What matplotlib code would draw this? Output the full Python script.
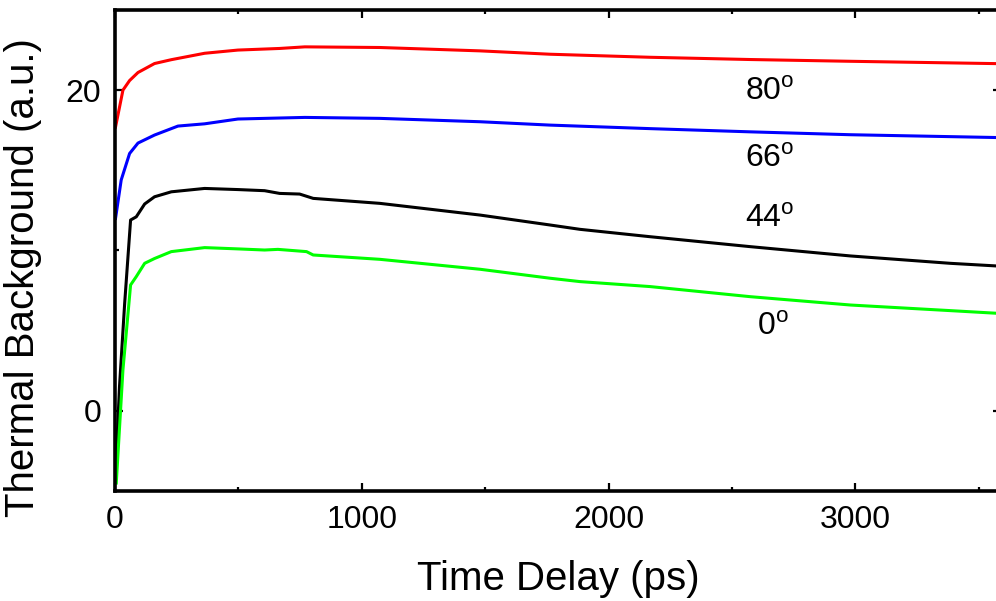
#!/usr/bin/env python3
"""
Thermal background vs. time delay for several angles
"""

import matplotlib
matplotlib.use('Agg')
import matplotlib.pyplot as plt
from matplotlib.ticker import MultipleLocator

plt.rcParams['font.family'] = ['Liberation Sans', 'DejaVu Sans']
plt.rcParams['mathtext.fontset'] = 'custom'
plt.rcParams['mathtext.rm'] = 'Liberation Sans'

# 80 deg (red)
t_80 = [2, 32, 59, 93, 160, 228, 363, 498, 667, 769, 1073, 1479, 1763, 2168, 2574, 2980, 3590]
y_80 = [17.7, 20.0, 20.6, 21.1, 21.66, 21.9, 22.3, 22.5, 22.6, 22.7, 22.66, 22.45, 22.24, 22.05, 21.91, 21.8, 21.65]

# 66 deg (blue)
t_66 = [2, 25, 59, 93, 160, 255, 363, 498, 769, 1073, 1479, 1763, 2168, 2574, 2980, 3590]
y_66 = [12.0, 14.4, 16.05, 16.7, 17.2, 17.76, 17.9, 18.2, 18.3, 18.24, 18.03, 17.82, 17.6, 17.4, 17.22, 17.04]

# 44 deg (black)
t_44 = [2, 18, 39, 63, 86, 120, 160, 228, 363, 498, 606, 667, 748, 803, 1073, 1479, 1763,
        1884, 2168, 2574, 2980, 3385, 3590]
y_44 = [-4.0, 1.5, 6.7, 11.9, 12.1, 12.9, 13.35, 13.66, 13.87, 13.8, 13.73, 13.56, 13.52, 13.25,
        12.94, 12.21, 11.59, 11.32, 10.86, 10.24, 9.66, 9.2, 9.02]

# 0 deg (green)
t_0 = [5, 32, 63, 86, 120, 160, 228, 363, 498, 606, 660, 776, 803, 1073, 1479, 1763, 1884,
       2168, 2574, 2980, 3385, 3590]
y_0 = [-4.5, 2.55, 7.85, 8.37, 9.2, 9.5, 9.93, 10.18, 10.1, 10.03, 10.07, 9.93, 9.72, 9.45,
       8.83, 8.27, 8.06, 7.75, 7.12, 6.6, 6.25, 6.07]

labels = ['80$^\\mathrm{o}$', '66$^\\mathrm{o}$', '44$^\\mathrm{o}$', '0$^\\mathrm{o}$']
label_x = [2554, 2554, 2554, 2601]
label_y = [19.38, 15.22, 11.48, 4.74]


def main():
    fig = plt.figure(figsize=(9.96, 6.01), dpi=100)
    ax = fig.add_axes([0.1155, 0.183, 0.8895, 0.8004])

    ax.plot(t_80, y_80, color='#ff0000', linewidth=2.2)
    ax.plot(t_66, y_66, color='#0000ff', linewidth=2.2)
    ax.plot(t_44, y_44, color='black', linewidth=2.2)
    ax.plot(t_0, y_0, color='#00ff00', linewidth=2.2)

    for txt, x, y in zip(labels, label_x, label_y):
        ax.text(x, y, txt, fontsize=23, va='baseline', ha='left')

    ax.set_xlim(0, 3590)
    ax.set_ylim(-5, 25)
    ax.xaxis.set_major_locator(MultipleLocator(1000))
    ax.xaxis.set_minor_locator(MultipleLocator(500))
    ax.yaxis.set_major_locator(MultipleLocator(20))
    ax.yaxis.set_minor_locator(MultipleLocator(10))

    ax.tick_params(which='both', direction='in', top=True, right=True,
                   labelsize=23, width=1.6)
    ax.tick_params(which='major', length=6, pad=10)
    ax.tick_params(which='minor', length=3)
    for sp in ax.spines.values():
        sp.set_linewidth(2.6)

    ax.set_xlabel('Time Delay (ps)', fontsize=29, labelpad=18)
    ax.set_ylabel('Thermal Background (a.u.)', fontsize=29)
    ax.yaxis.set_label_coords(-0.082, 0.443)

    fig.savefig('out.png', dpi=100)


if __name__ == '__main__':
    main()
